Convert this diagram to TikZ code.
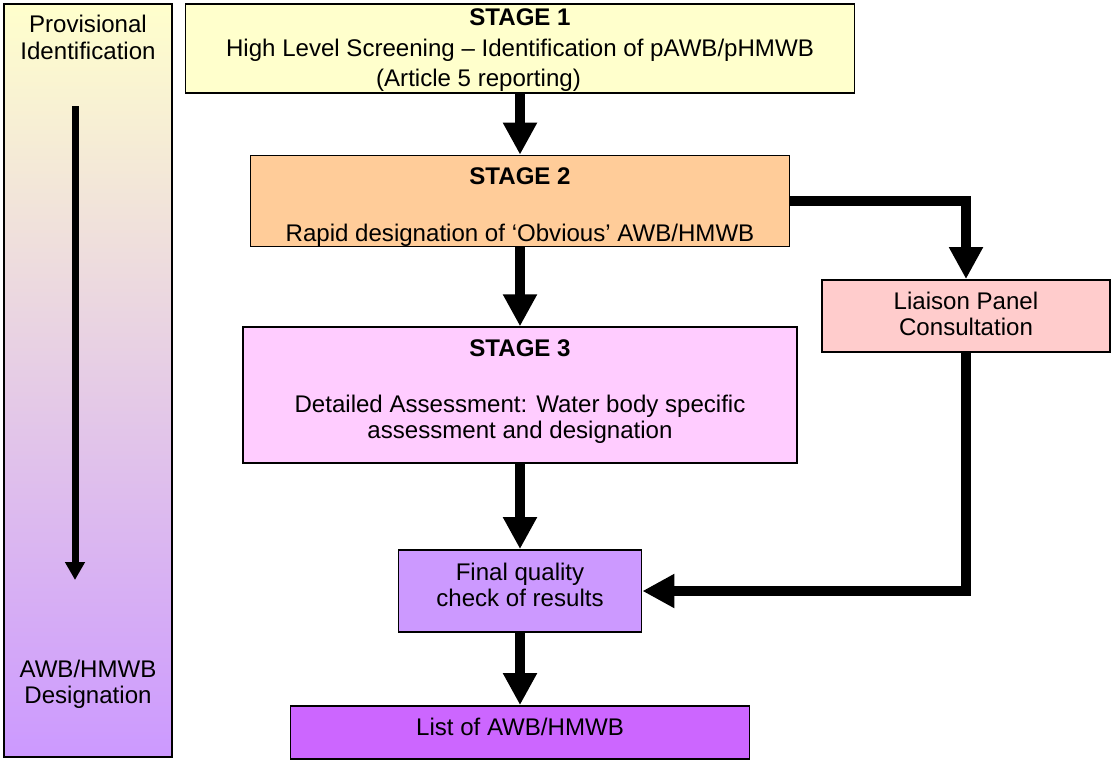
\documentclass[tikz,border=0pt]{standalone}
\usepackage{fontspec}
\setmainfont{Liberation Sans}
\usetikzlibrary{arrows.meta,positioning}
\newlength\pxu
\setlength\pxu{0.02cm}
\newcommand\topstrut[1]{\rule{0pt}{#1\pxu}}
\newcommand\botstrut[1]{\rule[-#1\pxu]{0pt}{0pt}}
\definecolor{stageone}{HTML}{FFFFCC}
\definecolor{stagetwo}{HTML}{FFCC99}
\definecolor{stagethree}{HTML}{FFCCFF}
\definecolor{liaisonfill}{HTML}{FFCCCC}
\definecolor{finalfill}{HTML}{CC99FF}
\definecolor{listfill}{HTML}{CC66FF}
\definecolor{provtop}{HTML}{FFFFCC}
\definecolor{provbottom}{HTML}{CC99FF}
\begin{document}
\begin{tikzpicture}[x=0.02cm, y=-0.02cm,
    every node/.style={font=\fontsize{13.7}{15.1}\selectfont, align=center},
    stagebox/.style={shape=rectangle, draw, line width=1pt, inner sep=0pt},
    flow/.style={line width=0.2cm, -{Triangle[width=0.64cm,length=0.64cm]}},
    phaseflow/.style={line width=0.14cm, -{Triangle[width=0.38cm,length=0.36cm]}}]
    \useasboundingbox (0,0) rectangle (1112,761);
    \node[stagebox, minimum width=168\pxu, minimum height=753\pxu,
        top color=provtop, bottom color=provbottom] (phase) at (88,380.5) {};
    \node[inner sep=0pt, below=0pt of phase.north] (provis)
        {\topstrut{29.3}Provisional\\Identification\botstrut{5}};
    \node[inner sep=0pt, above=0pt of phase.south] (desig)
        {\topstrut{17.3}AWB/HMWB\\Designation\botstrut{54}};
    \coordinate (phasetop) at (75,106);
    \coordinate (phasetip) at (75,580);
    \draw[phaseflow] (phasetop) -- (phasetip);
    \node[stagebox, fill=stageone, minimum width=669\pxu, minimum height=89\pxu] (S1) at (520,48.5)
        {\topstrut{22}\textbf{STAGE 1}\\[3.5\pxu]
        High Level Screening – Identification of pAWB/pHMWB\\[3.5\pxu]
        (Article 5 reporting)\rule{83\pxu}{0pt}\botstrut{7}};
    \node[stagebox, fill=stagetwo, minimum width=539\pxu, minimum height=90\pxu] (S2) at (520,201)
        {\topstrut{29}\textbf{STAGE 2}\\[30.3\pxu]
        Rapid designation of ‘Obvious’ AWB/HMWB\botstrut{4}};
    \node[stagebox, fill=liaisonfill, minimum width=288\pxu, minimum height=72\pxu] (liaison) at (966,316)
        {\topstrut{29.3}Liaison Panel\\Consultation\botstrut{16}};
    \node[stagebox, fill=stagethree, minimum width=554\pxu, minimum height=135.5\pxu] (S3) at (520,395)
        {\topstrut{29}\textbf{STAGE 3}\\[29\pxu]
        Detailed Assessment: Water body specific\\
        assessment and designation\botstrut{23.5}};
    \node[stagebox, fill=finalfill, minimum width=243\pxu, minimum height=82\pxu] (final) at (520,591)
        {\topstrut{30}Final quality\\check of results\botstrut{25.3}};
    \node[stagebox, fill=listfill, minimum width=459\pxu, minimum height=53\pxu] (list) at (520,732.5)
        {\topstrut{29}List of AWB/HMWB\botstrut{24}};
    \draw[flow] (S1) -- (S2);
    \draw[flow] (S2) -- (S3);
    \draw[flow] (S3) -- (final);
    \draw[flow] (final) -- (list);
    \draw[flow] (S2.east) -| (liaison.north);
    \draw[flow] (liaison.south) |- (final.east);
\end{tikzpicture}
\end{document}
